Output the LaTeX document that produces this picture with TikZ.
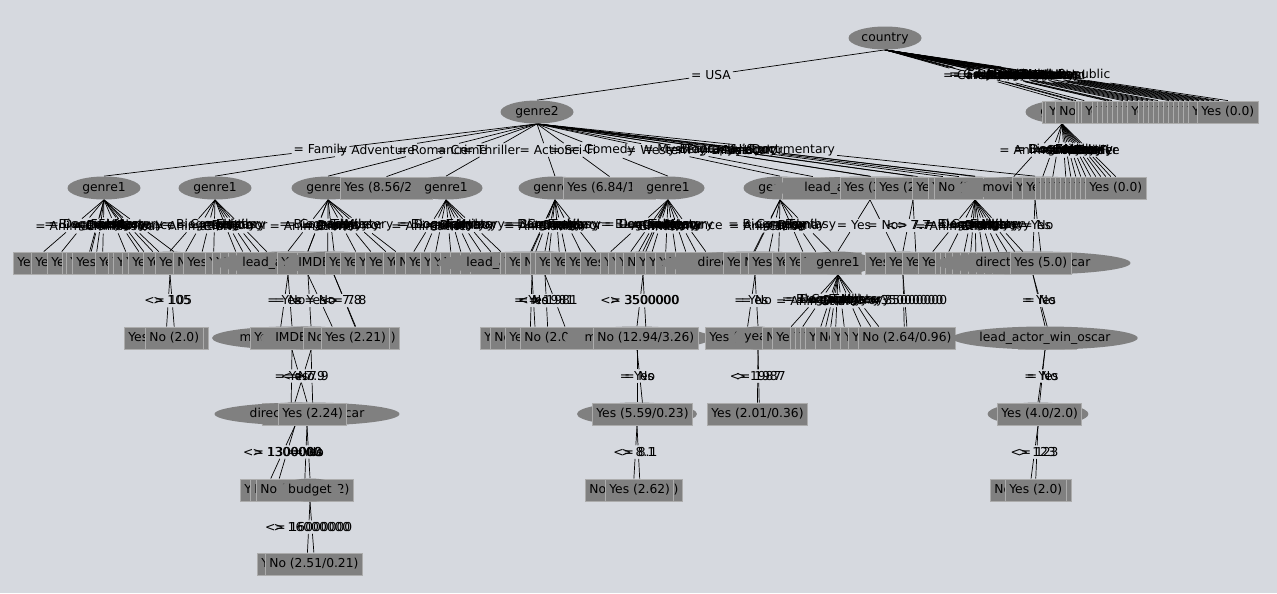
\documentclass[tikz,border=0pt]{standalone}
\usepackage{fontspec}
\setmainfont{DejaVu Sans}
\usetikzlibrary{shapes.geometric}
\definecolor{canvas}{RGB}{214,217,223}
\definecolor{nodegray}{RGB}{128,128,128}
\definecolor{boxline}{RGB}{172,172,172}
\pgfdeclarelayer{background}
\pgfdeclarelayer{edges}
\pgfsetlayers{background,edges,main}
\tikzset{
  split/.style={ellipse,fill=nodegray,inner sep=0pt,minimum height=.46cm,minimum width=#1},
  split/.default=1.46cm,
  leaf/.style={rectangle,fill=nodegray,draw=boxline,line width=.5pt,anchor=west,
    minimum height=.44cm,inner xsep=2.2pt,inner ysep=0pt},
  elab/.style={inner sep=1pt}
}
% parent, child, branch text
\newcommand\tedge[3]{%
  \path (#1.center) -- node[elab] (#1-#2) {#3} (#2.center);
  \begin{pgfonlayer}{edges}\draw (#1.south) -- (#1-#2) -- (#2.north);\end{pgfonlayer}}
\begin{document}
\begin{tikzpicture}[x=.02cm,y=-.02cm,line width=.5pt,font=\fontsize{7}{8.4}\selectfont]
 \begin{pgfonlayer}{background}
  \fill[canvas] (0,0) rectangle (1277,593);
 \end{pgfonlayer}
 \useasboundingbox (0,0) rectangle (1277,593);
 % root and first split
 \node[split] (country) at (885,38) {country};
 \node[split] (genre2) at (537,112) {genre2};
 \tedge{country}{genre2}{= USA}
 \node[split] (gx) at (1062,112) {genre1};
 \tedge{country}{gx}{= Canada}
 \foreach \lx/\tx/\cn in {1042/Yes (0.0)/UK, 1045/Yes (0.0)/France, 1055/No (1.0)/Germany,
   1075/Yes (0.0)/Australia, 1078/Yes (0.0)/Japan, 1081/Yes (0.0)/India, 1092/Yes (0.0)/China,
   1097/Yes (0.0)/Italy, 1102/Yes (0.0)/Spain, 1107/Yes (0.0)/Mexico, 1112/Yes (0.0)/Hong Kong,
   1117/Yes (0.0)/South Korea, 1122/Yes (0.0)/Ireland, 1127/Yes (0.0)/New Zealand,
   1138/Yes (0.0)/Brazil, 1143/Yes (0.0)/Denmark, 1148/Yes (0.0)/Sweden, 1153/Yes (0.0)/Russia,
   1158/Yes (0.0)/Netherlands, 1163/Yes (0.0)/Belgium, 1168/Yes (0.0)/Argentina,
   1173/Yes (0.0)/Norway, 1178/Yes (0.0)/Iran, 1183/Yes (0.0)/Taiwan, 1188/Yes (0.0)/Thailand,
   1197/Yes (0.0)/Czech Republic}{
  \node[leaf] (c1-\lx) at (\lx,112) {\tx};
  \tedge{country}{c1-\lx}{= \cn}
 }
 % level 2
 \node[split] (g1a) at (104,188) {genre1}; \tedge{genre2}{g1a}{= Family}
 \node[split] (g1b) at (215,188) {genre1}; \tedge{genre2}{g1b}{= Adventure}
 \node[split] (g1c) at (328,188) {genre1}; \tedge{genre2}{g1c}{= Romance}
 \node[leaf] (c2-340) at (340,188) {Yes (8.56/2.0)}; \tedge{genre2}{c2-340}{= Crime}
 \node[split] (g1d) at (446,188) {genre1}; \tedge{genre2}{g1d}{= Thriller}
 \node[split] (g1e) at (555,188) {genre1}; \tedge{genre2}{g1e}{= Action}
 \node[leaf] (c2-563) at (563,188) {Yes (6.84/1.0)}; \tedge{genre2}{c2-563}{= Sci-Fi}
 \node[split] (g1f) at (668,188) {genre1}; \tedge{genre2}{g1f}{= Comedy}
 \node[split] (g1g) at (780,188) {genre1}; \tedge{genre2}{g1g}{= Western}
 \node[leaf] (c2-782) at (782,188) {Yes (1.0)}; \tedge{genre2}{c2-782}{= Mystery}
 \node[split] (imdb2) at (913,188) {IMDB\_score}; \tedge{genre2}{imdb2}{= Drama}
 \node[split] (g1h) at (975,188) {genre1}; \tedge{genre2}{g1h}{= Horror}
 \node[split=4cm] (lead2) at (870,188) {lead\_actor\_win\_oscar}; \tedge{genre2}{lead2}{= Fantasy}
 \foreach \lx/\tx/\gn in {840/Yes (3.0)/Biography, 875/{Yes (2.0/1.0)}/Music,
   912/Yes (1.0)/Musical, 928/Yes (1.0)/History, 934/{No (2.0/1.0)}/Sport}{
  \node[leaf] (c2-\lx) at (\lx,188) {\tx};
  \tedge{genre2}{c2-\lx}{= \gn}
 }
 \node[leaf] (c2-983) at (983,188) {Yes (0.0)}; \tedge{gx}{c2-983}{= Animation}
 \node[split=3.2cm] (mov) at (1035,188) {movie\_win\_oscar}; \tedge{genre2}{mov}{= Documentary}
 \foreach \lx/\tx/\gn in {1012/Yes (0.0)/Biography, 1022/Yes (0.0)/Crime, 1035/Yes (0.0)/Documentary,
   1040/Yes (0.0)/Drama, 1045/Yes (0.0)/Family, 1050/Yes (0.0)/Fantasy, 1055/Yes (0.0)/History,
   1060/Yes (0.0)/Horror, 1065/Yes (0.0)/Musical, 1070/Yes (0.0)/Mystery, 1075/Yes (0.0)/Romance,
   1080/Yes (0.0)/Sci-Fi, 1085/Yes (0.0)/Thriller}{
  \node[leaf] (c2-\lx) at (\lx,188) {\tx};
  \tedge{gx}{c2-\lx}{= \gn}
 }
 % level 3, hidden splits first
 \node[split] (dur) at (170,263) {duration}; \tedge{g1b}{dur}{= Animation}
 \node[split] (dwo3) at (288,263) {director\_win\_oscar}; \tedge{g1c}{dwo3}{= Animation}
 \node[split] (year3) at (545,263) {title\_year}; \tedge{g1e}{year3}{= Crime}
 \node[split] (budget3) at (643,263) {budget}; \tedge{g1f}{budget3}{= Animation}
 \node[split] (budget3b) at (903,263) {budget}; \tedge{imdb2}{budget3b}{<= 7.7}
 \foreach \lx/\tx/\gn in {13/Yes (2.0)/Animation, 31/Yes (1.0)/Biography, 47/{Yes (3.0/1.0)}/Crime,
   62/No (1.0)/Documentary, 66/Yes (0.0)/Drama, 72/Yes (2.0)/Family, 95/Yes (1.0)/Fantasy,
   108/Yes (0.0)/History, 113/Yes (1.0)/Horror, 122/Yes (0.0)/Musical, 128/Yes (2.0)/Mystery,
   143/Yes (1.0)/Romance}{
  \node[leaf] (c3-\lx) at (\lx,263) {\tx};
  \tedge{g1a}{c3-\lx}{= \gn}
 }
 \foreach \lx/\tx/\gn in {155/Yes (2.0)/Biography, 173/No (1.0)/Comedy, 183/Yes (1.0)/Crime,
   205/Yes (0.0)/Drama, 212/Yes (0.0)/Family, 220/Yes (0.0)/Fantasy, 228/Yes (0.0)/History,
   236/Yes (0.0)/Horror}{
  \node[leaf] (c3-\lx) at (\lx,263) {\tx};
  \tedge{g1b}{c3-\lx}{= \gn}
 }
 \node[split=3.8cm] (leada) at (308,263) {lead\_actor\_win\_oscar}; \tedge{g1c}{leada}{= Comedy}
 \foreach \lx/\tx/\gn in {277/Yes (1.0)/Biography, 297/Yes (0.0)/Crime}{
  \node[leaf] (c3-\lx) at (\lx,263) {\tx};
  \tedge{g1c}{c3-\lx}{= \gn}
 }
 \node[split] (imdb3) at (334,263) {IMDB\_score}; \tedge{g1c}{imdb3}{= Drama}
 \foreach \lx/\tx/\gn in {325/Yes (1.0)/Family, 340/Yes (2.0)/Fantasy, 355/Yes (1.0)/Horror,
   365/Yes (2.0)/Mystery}{
  \node[leaf] (c3-\lx) at (\lx,263) {\tx};
  \tedge{g1c}{c3-\lx}{= \gn}
 }
 \foreach \lx/\tx/\gn in {383/Yes (0.0)/Animation, 395/No (1.0)/Biography, 405/Yes (1.0)/Crime,
   420/Yes (2.0)/Documentary, 430/Yes (0.0)/Drama, 440/Yes (0.0)/Family, 450/Yes (0.0)/Fantasy,
   460/Yes (0.0)/Horror, 470/Yes (0.0)/Mystery}{
  \node[leaf] (c3-\lx) at (\lx,263) {\tx};
  \tedge{g1d}{c3-\lx}{= \gn}
 }
 \node[split=3.8cm] (lead3) at (532,263) {lead\_actor\_win\_oscar}; \tedge{g1e}{lead3}{= Biography}
 \foreach \lx/\tx/\gn in {500/Yes (0.0)/Animation, 505/Yes (1.0)/Comedy, 520/No (1.0)/Documentary,
   530/No (1.0)/Drama, 535/Yes (2.0)/Family, 550/Yes (1.0)/Fantasy, 565/Yes (0.0)/Horror}{
  \node[leaf] (c3-\lx) at (\lx,263) {\tx};
  \tedge{g1e}{c3-\lx}{= \gn}
 }
 \foreach \lx/\tx/\gn in {580/Yes (2.0)/Biography, 600/Yes (0.0)/Crime, 608/Yes (0.0)/Documentary,
   615/Yes (1.0)/Drama, 623/No (1.0)/Family, 635/Yes (2.0)/Fantasy, 645/Yes (0.0)/History,
   655/Yes (0.0)/Horror, 665/Yes (0.0)/Mystery, 675/Yes (0.0)/Romance}{
  \node[leaf] (c3-\lx) at (\lx,263) {\tx};
  \tedge{g1f}{c3-\lx}{= \gn}
 }
 \node[split=3.8cm] (dwo4) at (755,263) {director\_win\_oscar}; \tedge{g1g}{dwo4}{= Animation}
 \foreach \lx/\tx/\gn in {723/Yes (1.0)/Biography, 740/No (1.0)/Comedy, 748/Yes (2.0)/Crime,
   772/Yes (1.0)/Drama, 785/Yes (1.0)/Family, 800/Yes (0.0)/Fantasy}{
  \node[leaf] (c3-\lx) at (\lx,263) {\tx};
  \tedge{g1g}{c3-\lx}{= \gn}
 }
 \node[split] (g1l3) at (838,263) {genre1}; \tedge{lead2}{g1l3}{= Yes}
 \node[leaf] (c3-865) at (865,263) {Yes (1.0)}; \tedge{lead2}{c3-865}{= No}
 \node[leaf] (c3-885) at (885,263) {Yes (1.0)}; \tedge{imdb2}{c3-885}{> 7.7}
 \foreach \lx/\tx/\gn in {902/Yes (1.0)/Animation, 918/Yes (2.0)/Biography, 935/No (1.0)/Comedy,
   940/Yes (0.0)/Crime, 945/Yes (0.0)/Documentary, 952/Yes (0.0)/Drama, 960/Yes (0.0)/Family,
   968/Yes (0.0)/Fantasy, 976/Yes (0.0)/History, 984/Yes (0.0)/Horror, 992/Yes (0.0)/Mystery}{
  \node[leaf] (c3-\lx) at (\lx,263) {\tx};
  \tedge{g1h}{c3-\lx}{= \gn}
 }
 \node[split=3.9cm] (dwo3r) at (1033,263) {director\_win\_oscar}; \tedge{mov}{dwo3r}{= Yes}
 \node[leaf] (c3-1010) at (1010,263) {Yes (5.0)}; \tedge{mov}{c3-1010}{= No}
 % level 4
 \node[leaf] (c4-124) at (124,338) {Yes (3.0/1.0)}; \tedge{dur}{c4-124}{<= 105}
 \node[leaf] (c4-145) at (145,338) {No (2.0)}; \tedge{dur}{c4-145}{> 105}
 \node[split=3.2cm] (mwo4) at (292,338) {movie\_win\_oscar}; \tedge{dwo3}{mwo4}{= No}
 \node[leaf] (c4-250) at (250,338) {Yes (1.0)}; \tedge{dwo3}{c4-250}{= Yes}
 \node[leaf] (c4-310) at (310,338) {No (2.21/1.0)}; \tedge{imdb3}{c4-310}{<= 7.8}
 \node[split] (imdb4) at (311,338) {IMDB\_score}; \tedge{leada}{imdb4}{= Yes}
 \node[leaf] (c4-303) at (303,338) {No (1.0)}; \tedge{leada}{c4-303}{= No}
 \node[leaf] (c4-321) at (321,338) {Yes (2.21)}; \tedge{imdb3}{c4-321}{> 7.8}
 \node[leaf] (c4-480) at (480,338) {Yes (1.49/0.49)}; \tedge{lead3}{c4-480}{= Yes}
 \node[leaf] (c4-490) at (490,338) {No (1.0/0.49)}; \tedge{lead3}{c4-490}{= No}
 \node[leaf] (c4-505) at (505,338) {Yes (2.0/1.0)}; \tedge{year3}{c4-505}{<= 1981}
 \node[leaf] (c4-520) at (520,338) {No (2.04/0.5)}; \tedge{year3}{c4-520}{> 1981}
 \node[split=2.9cm] (mwo5) at (637,338) {movie\_win\_oscar}; \tedge{budget3}{mwo5}{<= 3500000}
 \node[leaf] (c4-593) at (593,338) {No (12.94/3.26)}; \tedge{budget3}{c4-593}{> 3500000}
 \node[leaf] (c4-705) at (705,338) {Yes (2.0/1.0)}; \tedge{dwo4}{c4-705}{= Yes}
 \node[split=1cm] (year4) at (758,338) {year}; \tedge{dwo4}{year4}{= No}
 \foreach \lx/\tx/\gn in {762/No (1.0)/Animation, 772/Yes (2.0)/Biography, 790/Yes (0.0)/Comedy,
   795/Yes (0.0)/Crime, 800/Yes (0.0)/Documentary, 805/Yes (1.0)/Drama, 815/No (1.0)/Family,
   830/Yes (1.0)/Fantasy, 840/Yes (0.0)/Horror, 848/Yes (0.0)/Mystery}{
  \node[leaf] (c4-\lx) at (\lx,338) {\tx};
  \tedge{g1l3}{c4-\lx}{= \gn}
 }
 \node[leaf] (c4-875) at (875,338) {No (1.0)}; \tedge{budget3b}{c4-875}{<= 35000000}
 \node[leaf] (c4-858) at (858,338) {No (2.64/0.96)}; \tedge{budget3b}{c4-858}{> 35000000}
 \node[leaf] (c4-1018) at (1018,338) {No (1.0)}; \tedge{dwo3r}{c4-1018}{= No}
 \node[split=3.6cm] (lead4) at (1045,338) {lead\_actor\_win\_oscar}; \tedge{dwo3r}{lead4}{= Yes}
 % level 5
 \node[split] (gross5) at (295,414) {gross}; \tedge{imdb4}{gross5}{<= 7.9}
 \node[leaf] (c5-262) at (262,414) {No (1.0)}; \tedge{mwo4}{c5-262}{= Yes}
 \node[split=3.7cm] (dwo5) at (307,414) {director\_win\_oscar}; \tedge{mwo4}{dwo5}{= No}
 \node[leaf] (c5-278) at (278,414) {Yes (2.24)}; \tedge{imdb4}{c5-278}{> 7.9}
 \node[split=2.4cm] (imdb5) at (637,414) {IMDB\_score}; \tedge{mwo5}{imdb5}{= Yes}
 \node[leaf] (c5-592) at (592,414) {Yes (5.59/0.23)}; \tedge{mwo5}{c5-592}{= No}
 \node[leaf] (c5-730) at (730,414) {No (1.0)}; \tedge{year4}{c5-730}{> 1987}
 \node[leaf] (c5-707) at (707,414) {Yes (2.01/0.36)}; \tedge{year4}{c5-707}{<= 1987}
 \node[split=1.9cm] (imdb6) at (1038,414) {IMDB\_score}; \tedge{lead4}{imdb6}{= Yes}
 \node[leaf] (c5-997) at (997,414) {Yes (4.0/2.0)}; \tedge{lead4}{c5-997}{= No}
 % level 6
 \node[leaf] (c6-240) at (240,490) {Yes (1.0)}; \tedge{gross5}{c6-240}{<= 1300000}
 \node[leaf] (c6-250) at (250,490) {No (1.0)}; \tedge{gross5}{c6-250}{> 1300000}
 \node[leaf] (c6-256) at (256,490) {No (3.04/1.02)}; \tedge{dwo5}{c6-256}{= Yes}
 \node[split=1.2cm] (budget6) at (310,490) {budget}; \tedge{dwo5}{budget6}{= No}
 \node[leaf] (c6-585) at (585,490) {No (2.02/0.62)}; \tedge{imdb5}{c6-585}{<= 8.1}
 \node[leaf] (c6-605) at (605,490) {Yes (2.62)}; \tedge{imdb5}{c6-605}{> 8.1}
 \node[leaf] (c6-990) at (990,490) {No (2.0/1.0)}; \tedge{imdb6}{c6-990}{<= 123}
 \node[leaf] (c6-1005) at (1005,490) {Yes (2.0)}; \tedge{imdb6}{c6-1005}{> 123}
 % level 7
 \node[leaf] (c7-257) at (257,564) {Yes (1.49/0.49)}; \tedge{budget6}{c7-257}{<= 16000000}
 \node[leaf] (c7-265) at (265,564) {No (2.51/0.21)}; \tedge{budget6}{c7-265}{> 16000000}
\end{tikzpicture}
\end{document}
